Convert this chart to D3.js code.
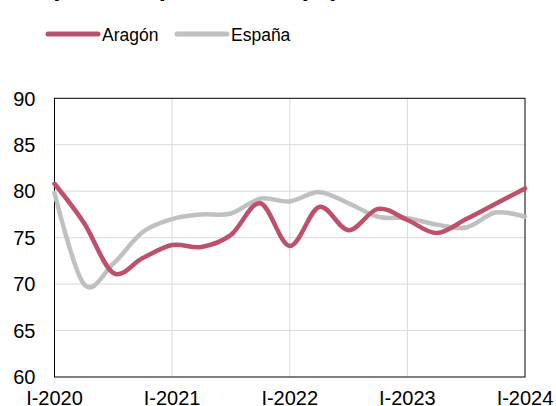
<!DOCTYPE html>
<html>
<head>
<meta charset="utf-8">
<script src="https://cdn.jsdelivr.net/npm/d3@7"></script>
<style>
  body { margin: 0; background: #fff; }
  svg { display: block; font-family: "Liberation Sans", Arial, sans-serif; }
</style>
</head>
<body>
<div id="chart"></div>
<script>
// quarterly values, I-2020 .. I-2024
var quarters = d3.range(17);
var aragon = [80.8, 76.6, 71.2, 72.8, 74.2, 74.0, 75.3, 78.7, 74.1, 78.3, 75.8, 78.1, 76.9, 75.5, 77.0, 78.65, 80.3];
var espana = [79.8, 70.0, 72.2, 75.6, 77.0, 77.5, 77.6, 79.2, 78.9, 79.9, 78.7, 77.25, 77.1, 76.4, 76.1, 77.7, 77.25];
var yTicks = [60, 65, 70, 75, 80, 85, 90];
var xTickIdx = [0, 4, 8, 12, 16];
var xTickLabels = ['I-2020', 'I-2021', 'I-2022', 'I-2023', 'I-2024'];
var seriesNames = ['Aragón', 'España'];
var colors = ['#be506b', '#c0c0c0'];

var W = 556, H = 406;
var plotL = 54.5, plotR = 525, plotT = 98.3, plotB = 377;

var svg = d3.select('#chart').append('svg')
  .attr('width', W)
  .attr('height', H);

// title, mostly cut off at the top
svg.append('text')
  .attr('x', 20)
  .attr('y', -4.5)
  .attr('font-size', 26)
  .attr('font-weight', 'bold')
  .attr('fill', '#000')
  .text('Capacidad productiva (%)');

var x = d3.scaleLinear().domain([0, 16]).range([plotL, plotR]);
var y = d3.scaleLinear().domain([60, 90]).range([plotB, plotT]);

// grid
svg.append('g').selectAll('line')
  .data(yTicks.slice(1, -1))
  .enter().append('line')
  .attr('x1', plotL).attr('x2', plotR)
  .attr('y1', function(d) { return y(d); })
  .attr('y2', function(d) { return y(d); })
  .attr('stroke', '#d9d9d9')
  .attr('stroke-width', 1);

svg.append('g').selectAll('line')
  .data(xTickIdx.slice(1, -1))
  .enter().append('line')
  .attr('y1', plotT).attr('y2', plotB)
  .attr('x1', function(d) { return x(d); })
  .attr('x2', function(d) { return x(d); })
  .attr('stroke', '#d9d9d9')
  .attr('stroke-width', 1);

// frame
svg.append('rect')
  .attr('x', plotL).attr('y', plotT)
  .attr('width', plotR - plotL).attr('height', plotB - plotT)
  .attr('fill', 'none')
  .attr('stroke', '#000')
  .attr('stroke-width', 1);

// y labels
svg.append('g').selectAll('text')
  .data(yTicks)
  .enter().append('text')
  .attr('x', 35.5)
  .attr('y', function(d) { return y(d) + 7.2; })
  .attr('text-anchor', 'end')
  .attr('font-size', 20)
  .attr('fill', '#000')
  .text(function(d) { return d; });

// x labels
svg.append('g').selectAll('text')
  .data(xTickIdx)
  .enter().append('text')
  .attr('x', function(d) { return x(d); })
  .attr('y', 404.5)
  .attr('text-anchor', 'middle')
  .attr('font-size', 20)
  .attr('fill', '#000')
  .text(function(d, i) { return xTickLabels[i]; });

var line = d3.line()
  .x(function(d, i) { return x(quarters[i]); })
  .y(function(d) { return y(d); })
  .curve(d3.curveCatmullRom.alpha(0));

// gray first so red sits on top where they cross
[espana, aragon].forEach(function(s, k) {
  svg.append('path')
    .datum(s)
    .attr('d', line)
    .attr('fill', 'none')
    .attr('stroke', k == 0 ? colors[1] : colors[0])
    .attr('stroke-width', 4.5)
    .attr('stroke-linejoin', 'round')
    .attr('stroke-linecap', 'round');
});

// legend
var legX = [48, 177];
seriesNames.forEach(function(name, i) {
  var g = svg.append('g');
  g.append('line')
    .attr('x1', legX[i]).attr('x2', legX[i] + 50)
    .attr('y1', 34).attr('y2', 34)
    .attr('stroke', colors[i])
    .attr('stroke-width', 5)
    .attr('stroke-linecap', 'round');
  g.append('text')
    .attr('x', legX[i] + 54)
    .attr('y', 40.5)
    .attr('font-size', 17.5)
    .attr('fill', '#000')
    .text(name);
});
</script>
</body>
</html>
